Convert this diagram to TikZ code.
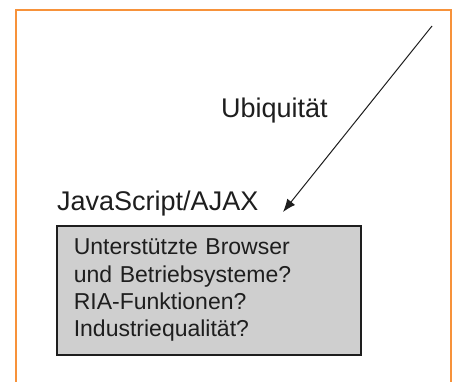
\documentclass[tikz,border=0pt]{standalone}
\usepackage{fontspec}
\setmainfont{Liberation Sans}
\usetikzlibrary{arrows.meta}
\definecolor{frameorange}{HTML}{F7923A}
\definecolor{boxgray}{HTML}{CFCFCF}
\definecolor{inkc}{HTML}{1E1E1E}
\tikzset{
  lbl/.style={font=\fontsize{27}{31}\selectfont, text=inkc, inner sep=0pt, anchor=base west},
  qbox/.style={draw=inkc, line width=1.6pt, fill=boxgray, anchor=north west,
    minimum width=304pt, minimum height=129pt, text width=270pt, align=left,
    inner xsep=17pt, inner ysep=0pt, text=inkc,
    font=\fontsize{23}{27.3}\selectfont},
  conn/.style={draw=inkc, line width=1pt, -{Latex[length=13pt,width=10pt]}}
}
\begin{document}
\begin{tikzpicture}[x=1pt,y=-1pt]
\useasboundingbox (0,0) rectangle (454,381);
\draw[frameorange, line width=1.6pt] (16,400) -- (16,10) -- (451,10) -- (451,400);
\node[lbl] (ubi) at (221,117) {Ubiquität};
\node[lbl] (js) at (57,210) {JavaScript/AJAX};
\node[qbox] (box) at (56,225) {Unterstützte Browser\\und Betriebsysteme?\\RIA-Funktionen?\\Industriequalität?};
\coordinate (src) at (432,26);
\coordinate (tip) at (283,212);
\draw[conn] (src) -- (tip);
\end{tikzpicture}
\end{document}
